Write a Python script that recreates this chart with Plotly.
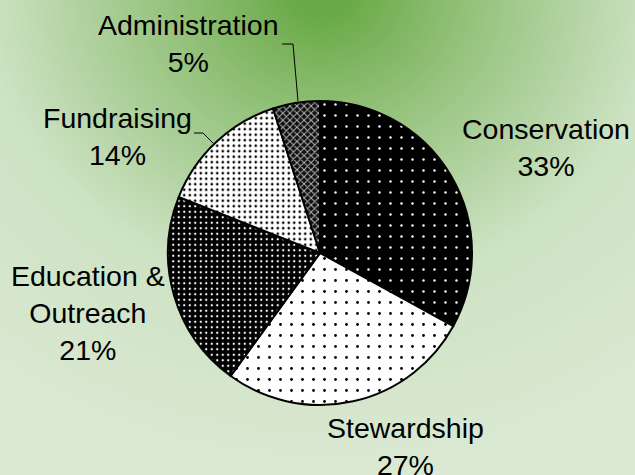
import numpy as np
import plotly.graph_objects as go

# ---- data ----
categories = ["Conservation", "Stewardship", "Education & Outreach", "Fundraising", "Administration"]
values = [33, 27, 21, 14, 5]

# ---- styles ----
W, H = 635, 475
pat_shapes = [".", ".", ".", ".", "x"]
pat_bg = ["#000000", "#ffffff", "#000000", "#ffffff", "#111111"]
pat_fg = ["#ffffff", "#000000", "#ffffff", "#000000", "#b4b4b4"]
pat_size = [11, 11, 5.5, 5.5, 5]
pat_sol = [0.04, 0.05, 0.14, 0.18, 0.35]
FONT = "Liberation Sans, Arial, sans-serif"
FS = 28.5
CX, CY, R = 320, 253, 152

# label block centres (pixels) for the outside labels
label_pos = [(546, 147), (405, 446), (88, 313), (117, 136), (188, 44)]
# leader lines (pixels)
leaders = [
    [(282, 44), (293, 44), (298, 101)],
    [(194, 133), (203, 133), (213, 143)],
]

def px(x):
    return x / W

def py(y):
    return 1 - y / H

# ---- background radial gradient built from concentric ellipses ----
c0 = np.array([106, 170, 71], float)
c1 = np.array([207, 227, 197], float)
c2 = np.array([219, 233, 211], float)
gx, gy, ys = 322, -10, 1.12

def grad_color(d):
    t = np.clip((d - 35) / 310.0, 0, 1) ** 0.9
    c = c0 * (1 - t) + c1 * t
    t2 = np.clip((d - 360) / 200.0, 0, 1)
    c = c * (1 - t2) + c2 * t2
    return "rgb(%d,%d,%d)" % tuple(int(round(v)) for v in c)

shapes = []
for r in np.arange(630, 0, -4.0):
    ry = r / ys
    shapes.append(dict(type="circle", xref="paper", yref="paper", layer="below",
                       x0=px(gx - r), x1=px(gx + r), y0=py(gy + ry), y1=py(gy - ry),
                       fillcolor=grad_color(r), line=dict(width=0)))

for pts in leaders:
    path = "M " + " L ".join("%f,%f" % (px(a), py(b)) for a, b in pts)
    shapes.append(dict(type="path", xref="paper", yref="paper", path=path,
                       line=dict(color="#000000", width=1), layer="above"))

total = sum(values)
texts = [c.replace("& ", "&<br>") + "<br>%d%%" % round(v * 100 / total) for c, v in zip(categories, values)]
annotations = [dict(text=t, x=px(x), y=py(y), xref="paper", yref="paper", showarrow=False,
                    xanchor="center", yanchor="middle", align="center",
                    font=dict(family=FONT, size=FS, color="#000000"))
               for t, (x, y) in zip(texts, label_pos)]

fig = go.Figure(go.Pie(
    labels=categories,
    values=values,
    sort=False,
    direction="clockwise",
    rotation=0,
    textinfo="none",
    marker=dict(
        colors=pat_bg,
        line=dict(color="#000000", width=2),
        pattern=dict(shape=pat_shapes, bgcolor=pat_bg, fgcolor=pat_fg,
                     size=pat_size, solidity=pat_sol, fillmode="replace"),
    ),
    domain=dict(x=[px(CX - R), px(CX + R)], y=[py(CY + R), py(CY - R)]),
    hoverinfo="label+percent",
))

fig.update_layout(
    width=W, height=H,
    margin=dict(l=0, r=0, t=0, b=0),
    showlegend=False,
    paper_bgcolor=grad_color(700),
    shapes=shapes,
    annotations=annotations,
)

fig.write_html("out.html")
